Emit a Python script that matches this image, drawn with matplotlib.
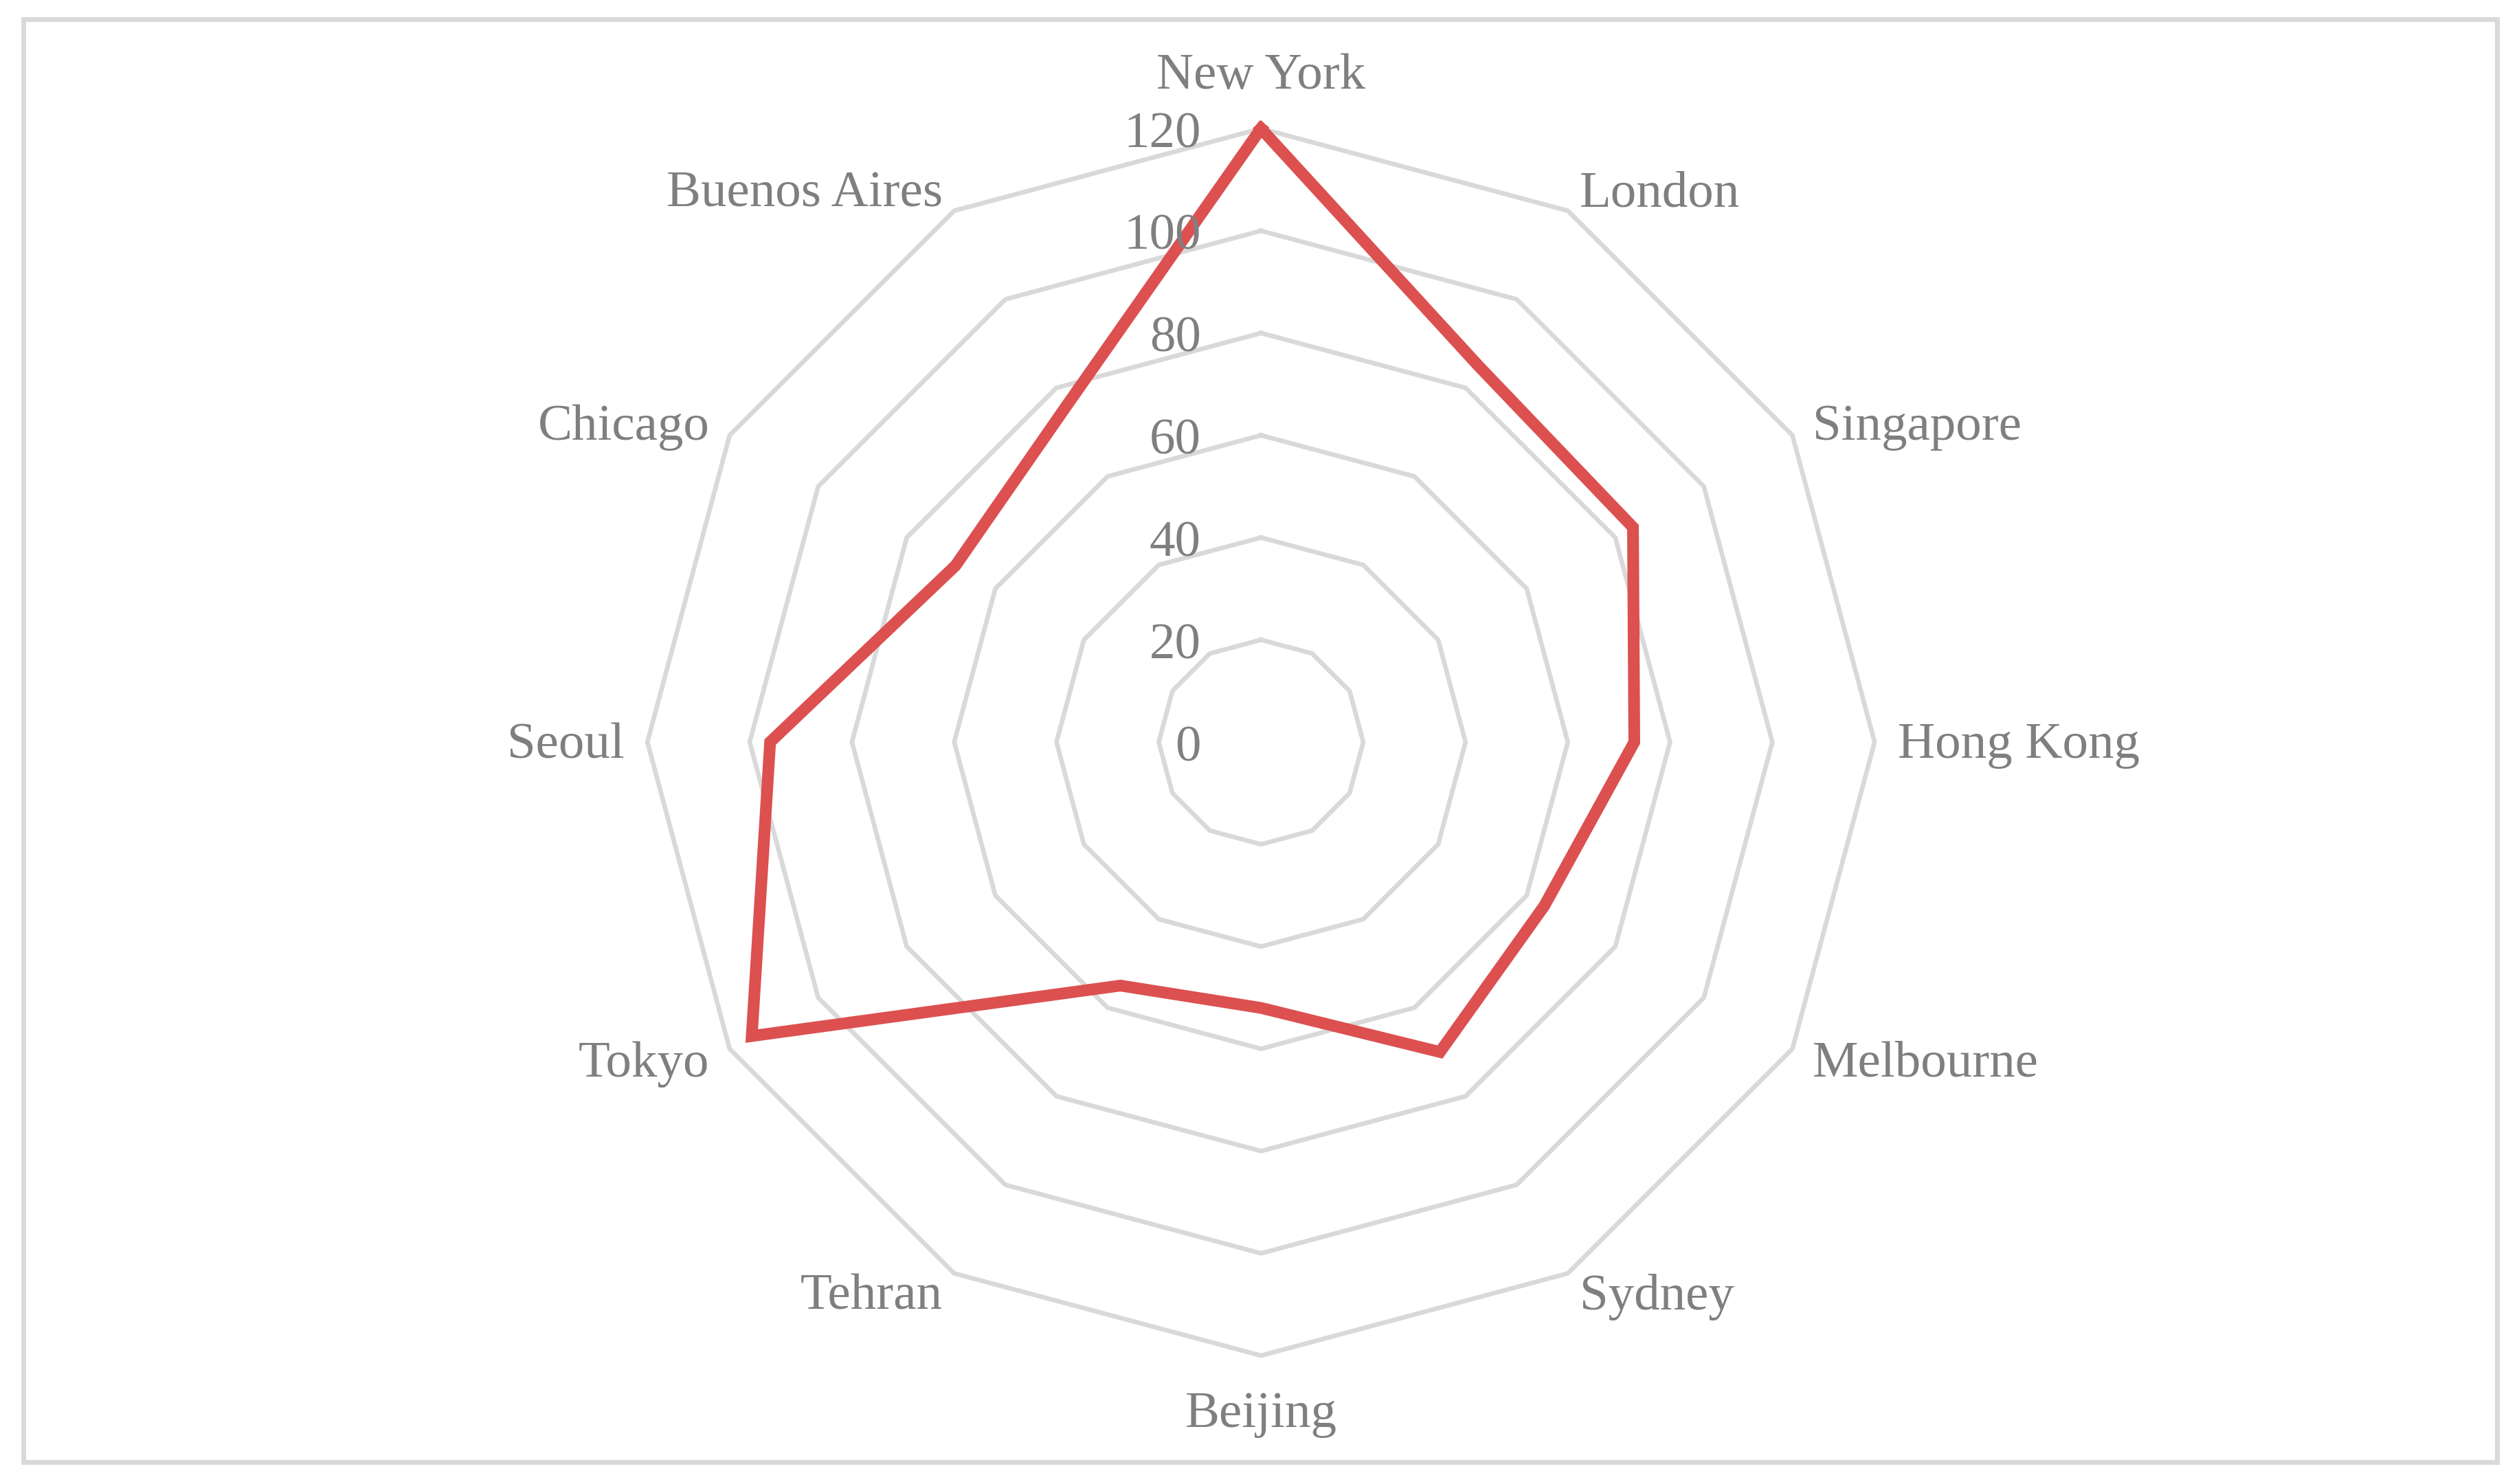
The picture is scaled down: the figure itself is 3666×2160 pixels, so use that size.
import numpy as np
import matplotlib
matplotlib.use("Agg")
import matplotlib.pyplot as plt
from matplotlib.patches import Rectangle

# donnees
villes = ["New York", "London", "Singapore", "Hong Kong", "Melbourne", "Sydney",
          "Beijing", "Tehran", "Tokyo", "Seoul", "Chicago", "Buenos Aires"]
valeurs = [120, 85, 84, 73, 64, 70, 52, 55, 115, 96, 69, 76]
graduations = [0, 20, 40, 60, 80, 100, 120]

plt.rcParams["font.family"] = ["Liberation Serif", "DejaVu Serif"]
gris_texte = "#7F7F7F"
gris_grille = "#D9D9D9"
rouge = "#DC5050"

fig = plt.figure(figsize=(12.22, 7.203), dpi=300)
fig.patches.append(Rectangle((0.0094, 0.0148), 0.982, 0.9718, transform=fig.transFigure,
                             fill=False, edgecolor=gris_grille, linewidth=1.7))

ax = fig.add_axes([0.257, 0.0865, 0.4872, 0.8265], projection="polar")
ax.set_theta_offset(np.pi / 2)
ax.set_theta_direction(-1)
ax.set_ylim(0, 120)
ax.grid(False)
ax.spines["polar"].set_visible(False)
ax.set_xticks([])
ax.set_yticks([])
ax.patch.set_visible(False)

n = len(villes)
angles = np.linspace(0, 2 * np.pi, n, endpoint=False)
angles_fermes = np.append(angles, angles[0])

# grille en polygones
for g in graduations[1:]:
    ax.plot(angles_fermes, [g] * (n + 1), color=gris_grille, lw=1.6, clip_on=False, zorder=1)

# serie
ax.plot(angles_fermes, valeurs + valeurs[:1], color=rouge, lw=4.1, clip_on=False,
        solid_joinstyle="miter", zorder=3)

# etiquettes de l'axe des valeurs
for g in graduations:
    ax.annotate(str(g), xy=(0, g), xytext=(-21, -2), textcoords="offset points",
                ha="right", va="center", fontsize=18, color=gris_texte, zorder=4)

# noms des villes
for a, nom in zip(angles, villes):
    s, c = np.sin(a), np.cos(a)
    ha = "left" if s > 0.1 else ("right" if s < -0.1 else "center")
    va = "bottom" if c > 0.9 else ("top" if c < -0.9 else "center")
    d = 11.3 if va != "center" else 8.1
    ax.annotate(nom, xy=(a, 120), xytext=(d * s, d * c - 1.1), textcoords="offset points",
                ha=ha, va=va, fontsize=18, color=gris_texte)

fig.savefig("out.png", dpi=300, facecolor="white")
